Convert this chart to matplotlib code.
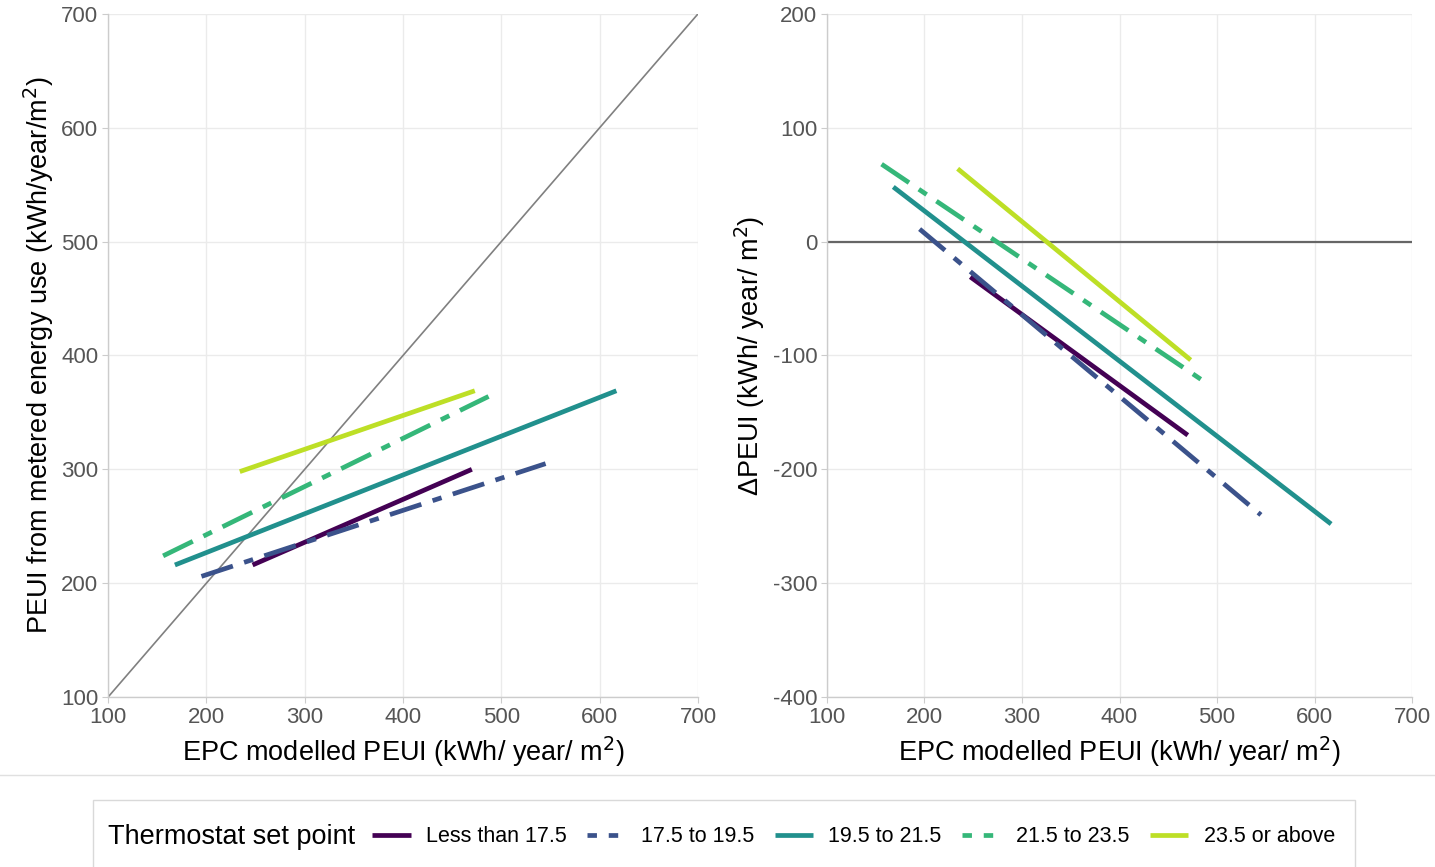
import matplotlib
matplotlib.use('Agg')
from matplotlib import pyplot as plt
from matplotlib.patches import Rectangle
from matplotlib.lines import Line2D

plt.rcParams['font.family'] = ['Liberation Sans', 'DejaVu Sans']
plt.rcParams['axes.unicode_minus'] = False

# thermostat set point groups
groups = ['Less than 17.5', '17.5 to 19.5', '19.5 to 21.5', '21.5 to 23.5', '23.5 or above']
colors = ['#440154', '#3b528b', '#21908d', '#35b779', '#bddf26']
dashed = [False, True, False, True, False]

# start/end of each fitted line: EPC modelled PEUI and metered PEUI
epc_start = [247, 195, 168, 156, 234]
epc_end = [470, 545, 617, 487, 473]
meter_start = [216, 206, 216, 224, 298]
meter_end = [300, 305, 369, 364, 369]

ticks_left = [100, 200, 300, 400, 500, 600, 700]
ticks_right_y = [-400, -300, -200, -100, 0, 100, 200]

fig = plt.figure(figsize=(14.35, 8.67), dpi=100)
ax1 = fig.add_axes([0.0753, 0.196, 0.4111, 0.788])
ax2 = fig.add_axes([0.5763, 0.196, 0.4077, 0.788])

dash_pat = (7, 2.5, 2, 2.5)


def style(ax):
    ax.set_facecolor('white')
    ax.grid(color='#ebebeb', lw=1.0)
    ax.set_axisbelow(True)
    for s in ['top', 'right']:
        ax.spines[s].set_visible(False)
    for s in ['left', 'bottom']:
        ax.spines[s].set_color('#cccccc')
        ax.spines[s].set_linewidth(1.0)
    ax.tick_params(colors='#cccccc', labelcolor='#555555', labelsize=16, length=4, pad=3)


# left panel
ax1.plot([100, 700], [100, 700], color='#808080', lw=1.2, zorder=2)
for i in range(len(groups)):
    ln, = ax1.plot([epc_start[i], epc_end[i]], [meter_start[i], meter_end[i]],
                   color=colors[i], lw=3.4, solid_capstyle='butt', zorder=3)
    if dashed[i]:
        ln.set_dashes(dash_pat)
ax1.set_xlim(100, 700)
ax1.set_ylim(100, 700)
ax1.set_xticks(ticks_left)
ax1.set_yticks(ticks_left)
style(ax1)
ax1.set_xlabel('EPC modelled PEUI (kWh/ year/ m$^2$)', fontsize=19.5, labelpad=5)
ax1.set_ylabel('PEUI from metered energy use (kWh/year/m$^2$)', fontsize=19.5, labelpad=4)

# right panel: difference metered - modelled
ax2.axhline(0, color='#666666', lw=1.6, zorder=2)
for i in range(len(groups)):
    d0 = meter_start[i] - epc_start[i]
    d1 = meter_end[i] - epc_end[i]
    ln, = ax2.plot([epc_start[i], epc_end[i]], [d0, d1],
                   color=colors[i], lw=3.4, solid_capstyle='butt', zorder=3)
    if dashed[i]:
        ln.set_dashes(dash_pat)
ax2.set_xlim(100, 700)
ax2.set_ylim(-400, 200)
ax2.set_xticks(ticks_left)
ax2.set_yticks(ticks_right_y)
style(ax2)
ax2.set_xlabel('EPC modelled PEUI (kWh/ year/ m$^2$)', fontsize=19.5, labelpad=5)
ax2.set_ylabel('ΔPEUI (kWh/ year/ m$^2$)', fontsize=19.5, labelpad=4)

# separator line and legend box
fig.add_artist(Line2D([0, 1], [1 - 775 / 867, 1 - 775 / 867], color='#e0e0e0', lw=1.0))
fig.add_artist(Rectangle((93 / 1435, -0.01), (1355 - 93) / 1435, (867 - 800) / 867 + 0.01,
                         transform=fig.transFigure, fill=False, edgecolor='#d9d9d9', lw=1.0))
fig.text(108 / 1435, 1 - 837 / 867, 'Thermostat set point', fontsize=19.5,
         va='center', ha='left')

handles = []
for i in range(len(groups)):
    h = Line2D([], [], color=colors[i], lw=3.4, solid_capstyle='butt')
    if dashed[i]:
        h.set_dashes((2, 2.5))
    handles.append(h)
fig.legend(handles, groups, loc='center left', bbox_to_anchor=(372 / 1435, 1 - 837 / 867),
           ncol=5, frameon=False, fontsize=15.5, handlelength=1.8, handletextpad=0.7,
           columnspacing=0.95, borderaxespad=0, borderpad=0)

fig.savefig('out.png', dpi=100)
